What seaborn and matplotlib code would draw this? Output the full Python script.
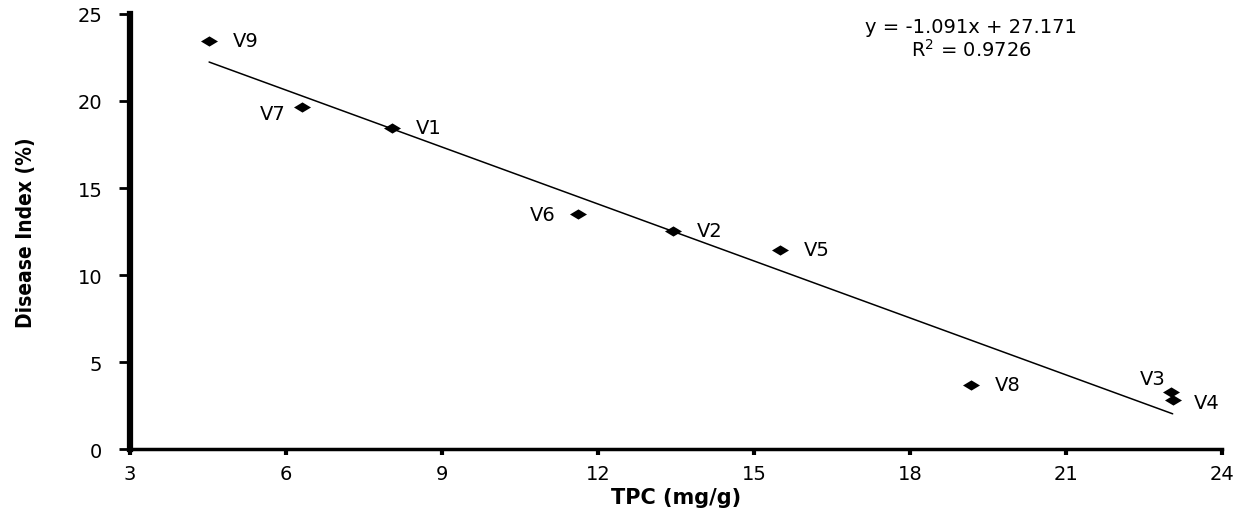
import numpy as np
import pandas as pd
import matplotlib
matplotlib.use('Agg')
import matplotlib.pyplot as plt
import seaborn as sns

# values
varieties = ['V1', 'V2', 'V3', 'V4', 'V5', 'V6', 'V7', 'V8', 'V9']
tpc = [8.04, 13.44, 23.02, 23.05, 15.50, 11.62, 6.31, 19.17, 4.52]
disease_index = [18.45, 12.53, 3.28, 2.82, 11.44, 13.50, 19.66, 3.68, 23.45]
slope = -1.091
intercept = 27.171
r_squared = 0.9726
x_ticks = [3, 6, 9, 12, 15, 18, 21, 24]
y_ticks = [0, 5, 10, 15, 20, 25]

# label offsets in points (dx, dy) and alignment per point
label_pos = {
    'V1': (17, 0, 'left'), 'V2': (17, 0, 'left'), 'V3': (-4, 10, 'right'),
    'V4': (15, -2, 'left'), 'V5': (17, 0, 'left'), 'V6': (-16, 0, 'right'),
    'V7': (-12, -5, 'right'), 'V8': (17, 0, 'left'), 'V9': (17, 0, 'left'),
}

df = pd.DataFrame({'variety': varieties, 'tpc': tpc, 'di': disease_index})

sns.set_style('ticks')
plt.rcParams['font.family'] = ['DejaVu Sans']
plt.rcParams.update({'text.color': 'black', 'axes.labelcolor': 'black',
                     'xtick.color': 'black', 'ytick.color': 'black',
                     'axes.edgecolor': 'black'})

fig = plt.figure(figsize=(12.47, 5.10), dpi=100)
ax = fig.add_axes([0.1043, 0.1176, 0.8757, 0.853])

diamond = [(-1, 0), (0, 0.6), (1, 0), (0, -0.6), (-1, 0)]
sns.scatterplot(data=df, x='tpc', y='di', marker=diamond, s=150,
                color='black', edgecolor='black', linewidth=0, ax=ax, zorder=3)

# trendline over the data range
xs = np.array([min(tpc), max(tpc)])
ax.plot(xs, slope * xs + intercept, color='black', linewidth=1.1, zorder=2)

for name, x, y in zip(varieties, tpc, disease_index):
    dx, dy, ha = label_pos[name]
    ax.annotate(name, (x, y), xytext=(dx, dy), textcoords='offset points',
                ha=ha, va='center', fontsize=14)

ax.text(0.77, 0.95, f'y = {slope:.3f}x + {intercept:.3f}', transform=ax.transAxes,
        ha='center', va='bottom', fontsize=14)
ax.text(0.77, 0.945, f'R$^2$ = {r_squared}', transform=ax.transAxes,
        ha='center', va='top', fontsize=14)

ax.set_xlim(3, 24)
ax.set_ylim(0, 25)
ax.set_xticks(x_ticks)
ax.set_yticks(y_ticks)
ax.tick_params(axis='x', labelsize=14, length=4, width=3, direction='out', pad=7)
ax.tick_params(axis='y', labelsize=14, length=8, width=2, direction='out', pad=12)

ax.spines['left'].set_linewidth(4.5)
ax.spines['bottom'].set_linewidth(2.5)
ax.spines['top'].set_visible(False)
ax.spines['right'].set_visible(False)

ax.set_xlabel('TPC (mg/g)', fontsize=15, fontweight='bold', labelpad=3)
ax.set_ylabel('Disease Index (%)', fontsize=15, fontweight='bold',
              fontstretch='condensed', labelpad=30)

fig.savefig('out.png', dpi=100)
